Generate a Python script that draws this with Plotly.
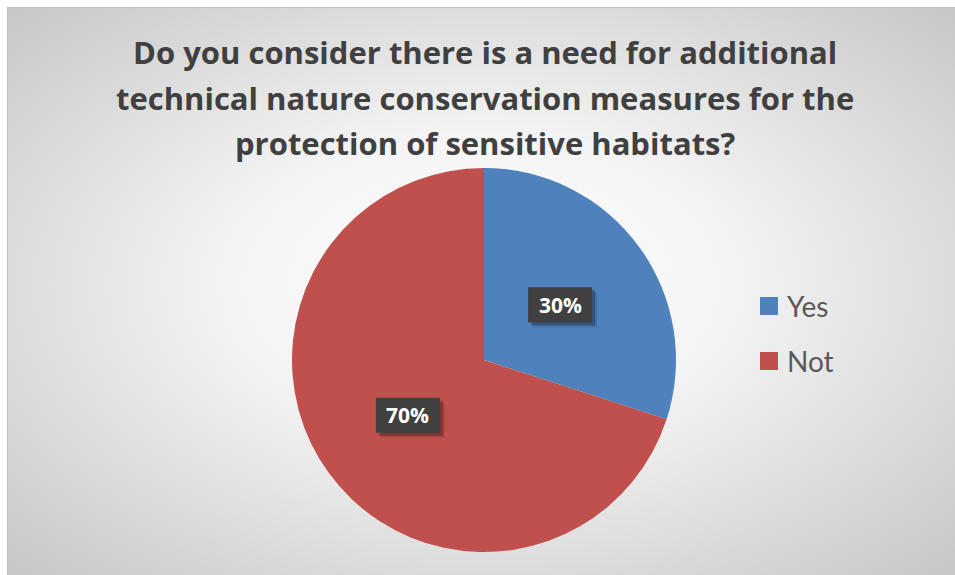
import math
import urllib.parse
import plotly.graph_objects as go

# Survey answers
labels = ["Yes", "Not"]
values = [30, 70]
colors = ["#4F81BD", "#C0504D"]
title_lines = [
    "Do you consider there is a need for additional",
    "technical nature conservation measures for the",
    "protection of sensitive habitats?",
]

W, H = 955, 575
TITLE_FONT = "'Open Sans', 'Noto Sans', sans-serif"
FONT = "Lato, 'Open Sans', sans-serif"

# Pie geometry in pixels
cx_px, cy_px, r_px = 484, 360, 192

fig = go.Figure()
fig.add_trace(go.Pie(
    labels=labels,
    values=values,
    marker=dict(colors=colors, line=dict(width=0)),
    sort=False,
    direction="clockwise",
    rotation=0,
    textinfo="none",
    hoverinfo="label+percent",
    showlegend=False,
    domain=dict(x=[(cx_px - r_px) / W, (cx_px + r_px) / W],
                y=[1 - (cy_px + r_px) / H, 1 - (cy_px - r_px) / H]),
))

# Radial gradient backdrop for the chart area
svg = (
    "<svg xmlns='http://www.w3.org/2000/svg' width='948' height='568' preserveAspectRatio='none'>"
    "<defs><radialGradient id='g' cx='50%' cy='50%' r='75%' fx='50%' fy='48%'>"
    "<stop offset='0%' stop-color='#ffffff'/>"
    "<stop offset='35%' stop-color='#f4f4f4'/>"
    "<stop offset='100%' stop-color='#c2c2c2'/>"
    "</radialGradient></defs>"
    "<rect width='948' height='568' fill='url(#g)'/></svg>"
)
src = "data:image/svg+xml;charset=utf-8," + urllib.parse.quote(svg)
fig.add_layout_image(dict(
    source=src, xref="paper", yref="paper",
    x=7 / W, y=1 - 7 / H, sizex=1 - 7 / W, sizey=1 - 7 / H,
    xanchor="left", yanchor="top", sizing="stretch", layer="below",
))

shapes = [
    dict(type="line", xref="paper", yref="paper", x0=7 / W, x1=1, y0=1 - 7.5 / H, y1=1 - 7.5 / H,
         line=dict(color="#bfbfbf", width=1)),
    dict(type="line", xref="paper", yref="paper", x0=7.5 / W, x1=7.5 / W, y0=0, y1=1 - 7 / H,
         line=dict(color="#bfbfbf", width=1)),
]

annotations = []
# Title lines
for i, line in enumerate(title_lines):
    annotations.append(dict(
        text=f"<b>{line}</b>", xref="paper", yref="paper",
        x=485 / W, y=1 - (52 + i * 45.5) / H, xanchor="center", yanchor="middle",
        showarrow=False, font=dict(family=TITLE_FONT, size=31, color="#404040"),
    ))

# Percentage labels placed on each slice's mid-angle, in dark boxes with a drop shadow
box_w, box_h = 64, 35
total = sum(values)
start = 0.0
for lab, v in zip(labels, values):
    frac = v / total
    mid = (start + frac / 2) * 2 * math.pi
    start += frac
    px = cx_px + 0.49 * r_px * math.sin(mid)
    py = cy_px - 0.49 * r_px * math.cos(mid)
    pct = f"{round(100 * frac)}%"
    for off, fill in ((5, "rgba(0,0,0,0.12)"), (3, "rgba(0,0,0,0.25)"), (0, "#404040")):
        shapes.append(dict(
            type="rect", xref="paper", yref="paper",
            x0=(px - box_w / 2 + off) / W, x1=(px + box_w / 2 + off) / W,
            y0=1 - (py + box_h / 2 + off) / H, y1=1 - (py - box_h / 2 + off) / H,
            fillcolor=fill, line=dict(width=0), layer="above",
        ))
    annotations.append(dict(
        text=f"<b>{pct}</b>", xref="paper", yref="paper",
        x=px / W, y=1 - py / H, xanchor="center", yanchor="middle",
        showarrow=False, font=dict(family=TITLE_FONT, size=21, color="#ffffff"),
    ))

# Legend
leg_x, leg_y0, leg_dy = 760, 306, 55
for i, (lab, col) in enumerate(zip(labels, colors)):
    yc = leg_y0 + i * leg_dy
    shapes.append(dict(type="rect", xref="paper", yref="paper",
                       x0=leg_x / W, x1=(leg_x + 18) / W,
                       y0=1 - (yc + 9) / H, y1=1 - (yc - 9) / H,
                       fillcolor=col, line=dict(width=0)))
    annotations.append(dict(
        text=lab, xref="paper", yref="paper",
        x=(leg_x + 25) / W, y=1 - yc / H, xanchor="left", yanchor="middle",
        showarrow=False, font=dict(family=FONT, size=28, color="#595959"),
    ))

fig.update_layout(
    width=W, height=H,
    margin=dict(l=0, r=0, t=0, b=0),
    paper_bgcolor="#ffffff",
    plot_bgcolor="rgba(0,0,0,0)",
    shapes=shapes,
    annotations=annotations,
)

fig.write_html("out.html")
